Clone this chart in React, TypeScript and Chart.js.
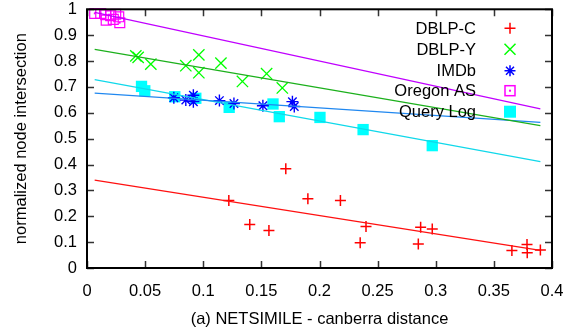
import React, { useEffect, useRef } from "react";
import { Chart, registerables } from "chart.js";

Chart.register(...registerables);

// ---- data ----
const dblpCX = [0.122, 0.140, 0.1565, 0.171, 0.190, 0.218, 0.235, 0.240, 0.285, 0.287, 0.297, 0.3655, 0.3785, 0.3787, 0.390];
const dblpCY = [0.261, 0.168, 0.145, 0.384, 0.268, 0.261, 0.098, 0.160, 0.093, 0.158, 0.151, 0.068, 0.091, 0.059, 0.070];

const dblpYX = [0.042, 0.044, 0.0549, 0.085, 0.0962, 0.0962, 0.1152, 0.1337, 0.1545, 0.168];
const dblpYY = [0.820, 0.814, 0.788, 0.782, 0.824, 0.755, 0.792, 0.721, 0.751, 0.696];

const imdbX = [0.0747, 0.085, 0.0915, 0.0915, 0.1139, 0.1264, 0.1513, 0.1767, 0.1783];
const imdbY = [0.658, 0.649, 0.668, 0.643, 0.647, 0.636, 0.627, 0.643, 0.624];

const oregonX = [0.0066, 0.0118, 0.0161, 0.0204, 0.0247, 0.0273, 0.0165, 0.0226, 0.0282];
const oregonY = [0.984, 0.984, 0.979, 0.975, 0.981, 0.971, 0.958, 0.961, 0.948];

const queryX = [0.0469, 0.0497, 0.0755, 0.0936, 0.1223, 0.160, 0.1654, 0.2004, 0.2375, 0.297];
const queryY = [0.702, 0.685, 0.662, 0.656, 0.621, 0.634, 0.585, 0.582, 0.535, 0.473];

// fitted lines (endpoints)
const fitX = [0.0066, 0.39];
const fitDblpC = [0.340, 0.068];
const fitDblpY = [0.845, 0.550];
const fitImdb = [0.676, 0.563];
const fitOregon = [0.988, 0.615];
const fitQuery = [0.728, 0.411];

const xTicks = [0, 0.05, 0.1, 0.15, 0.2, 0.25, 0.3, 0.35, 0.4];
const xTickLabels = ["0", "0.05", "0.1", "0.15", "0.2", "0.25", "0.3", "0.35", "0.4"];
const yTicks = [0, 0.1, 0.2, 0.3, 0.4, 0.5, 0.6, 0.7, 0.8, 0.9, 1];
const yTickLabels = ["0", "0.1", "0.2", "0.3", "0.4", "0.5", "0.6", "0.7", "0.8", "0.9", "1"];

const seriesNames = ["DBLP-C", "DBLP-Y", "IMDb", "Oregon AS", "Query Log"];
const xTitle = "(a) NETSIMILE - canberra distance";
const yTitle = "normalized node intersection";

const FONT = "Liberation Sans, Arial, Helvetica, sans-serif";
const FS = 16.5;

const pts = (xs: number[], ys: number[]) => xs.map((x, i) => ({ x, y: ys[i] }));

const COLORS = {
  red: "#ff0000",
  green: "#00ff00",
  blue: "#0000ff",
  magenta: "#ff00ff",
  cyan: "#00ffff",
  redLine: "#ff1010",
  greenLine: "#1cb01c",
  blueLine: "#2088f0",
  magentaLine: "#c000ff",
  cyanLine: "#10d8ea",
};

const framePlugin = {
  id: "frame",
  afterDatasetsDraw(chart: any) {
    const { ctx, chartArea: a, scales } = chart;
    const xs = scales.x;
    const ys = scales.y;
    ctx.save();
    // ticks (inward, mirrored)
    ctx.strokeStyle = "#333";
    ctx.lineWidth = 1.5;
    const tl = 7;
    ctx.beginPath();
    xTicks.forEach((v) => {
      const px = Math.round(xs.getPixelForValue(v)) + 0.5;
      ctx.moveTo(px, a.bottom);
      ctx.lineTo(px, a.bottom - tl);
      ctx.moveTo(px, a.top);
      ctx.lineTo(px, a.top + tl);
    });
    yTicks.forEach((v) => {
      const py = Math.round(ys.getPixelForValue(v)) + 0.5;
      ctx.moveTo(a.left, py);
      ctx.lineTo(a.left + tl, py);
      ctx.moveTo(a.right, py);
      ctx.lineTo(a.right - tl, py);
    });
    ctx.stroke();
    // border
    ctx.strokeStyle = "#000";
    ctx.lineWidth = 2;
    ctx.strokeRect(a.left, a.top, a.right - a.left, a.bottom - a.top);

    // legend
    ctx.font = `${FS}px ${FONT}`;
    ctx.fillStyle = "#000";
    ctx.textAlign = "right";
    ctx.textBaseline = "middle";
    const textRight = 476;
    const symX = 510;
    const rowY = [28.3, 49.3, 70.7, 90.7, 111.7];
    seriesNames.forEach((n, i) => {
      ctx.fillText(n, textRight, rowY[i] + 1);
    });
    ctx.lineWidth = 1.5;
    // +
    ctx.strokeStyle = COLORS.red;
    ctx.beginPath();
    ctx.moveTo(symX - 5.5, rowY[0]); ctx.lineTo(symX + 5.5, rowY[0]);
    ctx.moveTo(symX, rowY[0] - 5.5); ctx.lineTo(symX, rowY[0] + 5.5);
    ctx.stroke();
    // x
    ctx.strokeStyle = COLORS.green;
    ctx.beginPath();
    ctx.moveTo(symX - 5.5, rowY[1] - 5.5); ctx.lineTo(symX + 5.5, rowY[1] + 5.5);
    ctx.moveTo(symX - 5.5, rowY[1] + 5.5); ctx.lineTo(symX + 5.5, rowY[1] - 5.5);
    ctx.stroke();
    // asterisk
    ctx.strokeStyle = COLORS.blue;
    ctx.beginPath();
    ctx.moveTo(symX - 5.5, rowY[2]); ctx.lineTo(symX + 5.5, rowY[2]);
    ctx.moveTo(symX, rowY[2] - 5.5); ctx.lineTo(symX, rowY[2] + 5.5);
    ctx.moveTo(symX - 4, rowY[2] - 4); ctx.lineTo(symX + 4, rowY[2] + 4);
    ctx.moveTo(symX - 4, rowY[2] + 4); ctx.lineTo(symX + 4, rowY[2] - 4);
    ctx.stroke();
    // open square with dot
    ctx.strokeStyle = COLORS.magenta;
    ctx.strokeRect(symX - 5, rowY[3] - 5, 10, 10);
    ctx.fillStyle = COLORS.magenta;
    ctx.fillRect(symX - 1, rowY[3] - 1, 2, 2);
    // filled square
    ctx.fillStyle = COLORS.cyan;
    ctx.fillRect(symX - 6, rowY[4] - 6, 12, 12);

    // axis titles
    ctx.fillStyle = "#000";
    ctx.textAlign = "center";
    ctx.textBaseline = "middle";
    ctx.fillText(xTitle, (a.left + a.right) / 2, 319);
    ctx.translate(21, (a.top + a.bottom) / 2);
    ctx.rotate(-Math.PI / 2);
    ctx.fillText(yTitle, 0, 0);
    ctx.restore();
  },
};

export default function App() {
  const ref = useRef<HTMLCanvasElement | null>(null);
  useEffect(() => {
    const prevMargin = document.body.style.margin;
    document.body.style.margin = "0";
    const ctx = ref.current!.getContext("2d")!;
    const fitLine = (ys: number[], color: string) => ({
      type: "line" as const,
      data: pts(fitX, ys),
      borderColor: color,
      borderWidth: 1.2,
      pointRadius: 0,
      fill: false,
      showLine: true,
      clip: false as any,
    });
    const chart = new Chart(ctx, {
      type: "scatter",
      data: {
        datasets: [
          fitLine(fitDblpC, COLORS.redLine),
          fitLine(fitDblpY, COLORS.greenLine),
          fitLine(fitImdb, COLORS.blueLine),
          fitLine(fitOregon, COLORS.magentaLine),
          fitLine(fitQuery, COLORS.cyanLine),
          {
            data: pts(dblpCX, dblpCY),
            pointStyle: "cross",
            pointRadius: 5.5,
            borderColor: COLORS.red,
            pointBorderWidth: 1.5,
            clip: false as any,
          },
          {
            data: pts(dblpYX, dblpYY),
            pointStyle: "crossRot",
            pointRadius: 8,
            borderColor: COLORS.green,
            pointBorderWidth: 1.3,
            clip: false as any,
          },
          {
            data: pts(imdbX, imdbY),
            pointStyle: "star",
            pointRadius: 6,
            borderColor: COLORS.blue,
            pointBorderWidth: 1.4,
            clip: false as any,
          },
          {
            data: pts(oregonX, oregonY),
            pointStyle: "rect",
            pointRadius: 7,
            borderColor: COLORS.magenta,
            backgroundColor: "rgba(0,0,0,0)",
            pointBorderWidth: 1.2,
            clip: false as any,
          },
          {
            data: pts(oregonX, oregonY),
            pointStyle: "rect",
            pointRadius: 1.2,
            borderColor: COLORS.magenta,
            backgroundColor: COLORS.magenta,
            pointBorderWidth: 0,
            clip: false as any,
          },
          {
            data: pts(queryX, queryY),
            pointStyle: "rect",
            pointRadius: 8,
            borderColor: COLORS.cyan,
            backgroundColor: COLORS.cyan,
            pointBorderWidth: 0,
            clip: false as any,
          },
        ] as any,
      },
      options: {
        animation: false,
        responsive: false,
        maintainAspectRatio: false,
        layout: { padding: { top: 8, right: 24, left: 0, bottom: 0 } },
        plugins: { legend: { display: false }, tooltip: { enabled: false } },
        scales: {
          x: {
            type: "linear",
            min: 0,
            max: 0.4,
            grid: { display: false, drawTicks: false },
            border: { display: false },
            afterBuildTicks: (s: any) => {
              s.ticks = xTicks.map((v) => ({ value: v }));
            },
            afterFit: (s: any) => {
              s.height = 65;
              s.paddingLeft = 0;
              s.paddingRight = 0;
            },
            ticks: {
              padding: 14,
              color: "#000",
              font: { family: FONT, size: FS },
              autoSkip: false,
              maxRotation: 0,
              callback: (_v: any, i: number) => xTickLabels[i],
            },
          },
          y: {
            type: "linear",
            min: 0,
            max: 1,
            grid: { display: false, drawTicks: false },
            border: { display: false },
            afterBuildTicks: (s: any) => {
              s.ticks = yTicks.map((v) => ({ value: v }));
            },
            afterFit: (s: any) => {
              s.width = 87;
              s.paddingTop = 0;
              s.paddingBottom = 0;
            },
            ticks: {
              padding: 10,
              color: "#000",
              font: { family: FONT, size: FS },
              autoSkip: false,
              callback: (_v: any, i: number) => yTickLabels[i],
            },
          },
        },
      } as any,
      plugins: [framePlugin],
    });
    return () => {
      chart.destroy();
      document.body.style.margin = prevMargin;
    };
  }, []);
  return (
    <div style={{ position: "absolute", left: 0, top: 0, width: 576, height: 333, background: "#fff" }}>
      <canvas ref={ref} width={576} height={333} style={{ width: 576, height: 333, display: "block" }} />
    </div>
  );
}
